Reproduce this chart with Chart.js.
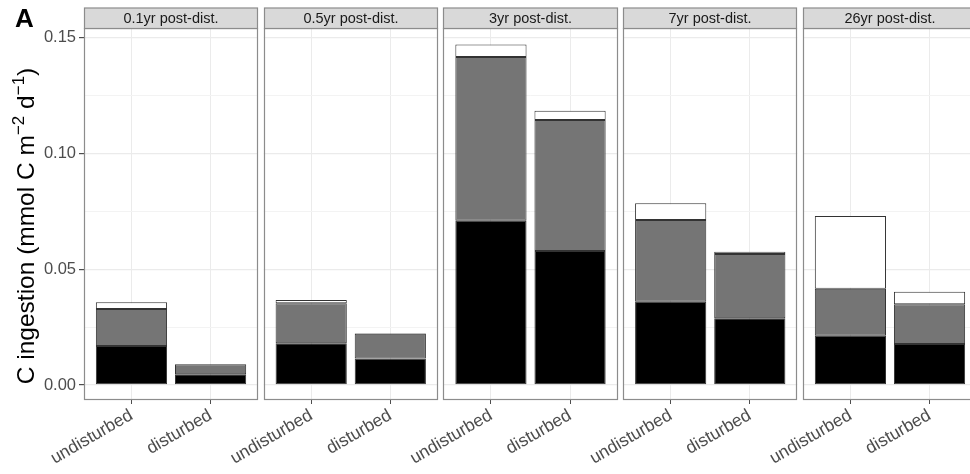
<!DOCTYPE html>
<html>
<head>
<meta charset="utf-8">
<script src="https://cdn.jsdelivr.net/npm/chart.js@4.4.1/dist/chart.umd.min.js"></script>
<style>
  html, body { margin: 0; padding: 0; background: #ffffff; }
  #wrap { position: relative; width: 970px; height: 474px; overflow: hidden; background: #ffffff; }
  #chart { display: block; }
</style>
</head>
<body>
<div id="wrap"><canvas id="chart" width="977" height="474"></canvas></div>
<script>
// Facets (time since disturbance) and the two site groups inside each facet
const panels = ['0.1yr post-dist.', '0.5yr post-dist.', '3yr post-dist.', '7yr post-dist.', '26yr post-dist.'];
const groups = ['undisturbed', 'disturbed'];
const yTicks = [0, 0.05, 0.10, 0.15];

// Stacked components per bar, ordered facet by facet: undisturbed, disturbed
const blackPart = [0.0168, 0.0046, 0.0180, 0.0114, 0.0710, 0.0579, 0.0360, 0.0288, 0.0213, 0.0177];
const greyPart  = [0.0160, 0.0043, 0.0173, 0.0107, 0.0708, 0.0566, 0.0353, 0.0278, 0.0203, 0.0172];
const whitePart = [0.0029, 0.0000, 0.0014, 0.0002, 0.0054, 0.0040, 0.0072, 0.0010, 0.0314, 0.0054];

const FONT = "'Liberation Sans', Arial, Helvetica, sans-serif";
const PITCH = 2.272;          // facet spacing on the shared x scale (2.2 units of panel + gap)
const PANEL_LO = 0.4, PANEL_HI = 2.6;

// x position of every bar: facet offset + group slot (1 or 2)
const xPos = [];
panels.forEach((_, p) => groups.forEach((_, g) => xPos.push(p * PITCH + g + 1)));

const toPoints = arr => arr.map((v, i) => ({ x: xPos[i], y: v }));

const isMajor = v => Math.abs(Math.round(v / 0.025) % 2) === 0;

// Facet frames, gaps and strip headers
const facetPlugin = {
  id: 'facets',
  beforeDatasetsDraw(chart) {
    const { ctx, chartArea: a, scales: { x } } = chart;
    ctx.save();
    // clear the gutter between facets
    ctx.fillStyle = '#ffffff';
    for (let p = 0; p < panels.length - 1; p++) {
      const l = x.getPixelForValue(p * PITCH + PANEL_HI);
      const r = x.getPixelForValue((p + 1) * PITCH + PANEL_LO);
      ctx.fillRect(l, a.top - 1, r - l, a.bottom - a.top + 2);
    }
    ctx.restore();
  },
  afterDatasetsDraw(chart) {
    const { ctx, chartArea: a, scales: { x } } = chart;
    ctx.save();
    panels.forEach((name, p) => {
      const l = Math.round(x.getPixelForValue(p * PITCH + PANEL_LO)) + 0.5;
      const r = Math.round(x.getPixelForValue(p * PITCH + PANEL_HI)) - 0.5;
      const top = Math.round(a.top) + 0.5;
      const bot = Math.round(a.bottom) - 0.5;
      // panel border
      ctx.strokeStyle = '#8c8c8c';
      ctx.lineWidth = 1.2;
      ctx.strokeRect(l, top, r - l, bot - top);
      // strip
      const sTop = top - 20.5;
      ctx.fillStyle = '#d9d9d9';
      ctx.fillRect(l, sTop, r - l, top - sTop);
      ctx.strokeRect(l, sTop, r - l, top - sTop);
      ctx.fillStyle = '#1a1a1a';
      ctx.font = `14.5px ${FONT}`;
      ctx.textAlign = 'center';
      ctx.textBaseline = 'middle';
      ctx.fillText(name, (l + r) / 2, (sTop + top) / 2 + 0.5);
    });
    ctx.restore();
  }
};

// Y-axis title with superscripted exponents, plus the panel tag
const titlePlugin = {
  id: 'yTitle',
  afterDraw(chart) {
    const { ctx } = chart;
    const size = 24.5, supSize = 17;
    const parts = [
      { t: 'C ingestion (mmol C m', sup: false },
      { t: '\u22122', sup: true },
      { t: ' d', sup: false },
      { t: '\u22121', sup: true },
      { t: ')', sup: false }
    ];
    ctx.save();
    let total = 0;
    parts.forEach(s => {
      ctx.font = `${s.sup ? supSize : size}px ${FONT}`;
      s.w = ctx.measureText(s.t).width;
      total += s.w;
    });
    ctx.translate(34, 226);
    ctx.rotate(-Math.PI / 2);
    ctx.fillStyle = '#000000';
    ctx.textAlign = 'left';
    ctx.textBaseline = 'alphabetic';
    let cx = -total / 2;
    parts.forEach(s => {
      ctx.font = `${s.sup ? supSize : size}px ${FONT}`;
      ctx.fillText(s.t, cx, s.sup ? -size * 0.42 : 0);
      cx += s.w;
    });
    ctx.restore();

    ctx.save();
    ctx.font = `bold 26px ${FONT}`;
    ctx.fillStyle = '#000000';
    ctx.textAlign = 'left';
    ctx.textBaseline = 'alphabetic';
    ctx.fillText('A', 15, 27);
    ctx.restore();
  }
};

const barStyle = { borderColor: '#333333', borderWidth: 1, borderSkipped: false, stack: 's', categoryPercentage: 1, barPercentage: 0.9 };

new Chart(document.getElementById('chart'), {
  type: 'bar',
  data: {
    datasets: [
      Object.assign({ label: 'black', data: toPoints(blackPart), backgroundColor: '#000000' }, barStyle),
      Object.assign({ label: 'grey', data: toPoints(greyPart), backgroundColor: '#757575' }, barStyle),
      Object.assign({ label: 'white', data: toPoints(whitePart), backgroundColor: '#ffffff' }, barStyle)
    ]
  },
  options: {
    responsive: false,
    animation: false,
    devicePixelRatio: 1,
    layout: { padding: { top: 28, left: 0, right: 0, bottom: 0 } },
    plugins: { legend: { display: false }, tooltip: { enabled: false } },
    scales: {
      x: {
        type: 'linear',
        stacked: true,
        offset: false,
        min: PANEL_LO,
        max: (panels.length - 1) * PITCH + PANEL_HI,
        border: { display: false },
        grid: { offset: false, color: '#ebebeb', lineWidth: 1, tickColor: '#4d4d4d', tickLength: 4, drawTicks: true },
        afterBuildTicks: s => { s.ticks = xPos.map(v => ({ value: v })); },
        afterFit: s => { s.height = 74; s.paddingLeft = 0; s.paddingRight = 0; },
        ticks: {
          autoSkip: false,
          minRotation: 30,
          maxRotation: 30,
          padding: 1,
          color: '#4d4d4d',
          font: { family: FONT, size: 17.5 },
          callback: (v, i) => groups[i % groups.length]
        }
      },
      y: {
        type: 'linear',
        stacked: true,
        min: -0.0065,
        max: 0.1543,
        border: { display: false },
        grid: {
          color: c => isMajor(c.tick.value) ? '#ebebeb' : '#f3f3f3',
          lineWidth: c => isMajor(c.tick.value) ? 1.2 : 1,
          tickColor: c => isMajor(c.tick.value) ? '#4d4d4d' : 'rgba(0,0,0,0)',
          tickLength: 5
        },
        afterBuildTicks: s => {
          const t = [];
          for (let i = 0; i <= 6; i++) t.push({ value: i * 0.025 });
          s.ticks = t;
        },
        afterFit: s => { s.width = 84; },
        ticks: {
          padding: 3,
          color: '#4d4d4d',
          font: { family: FONT, size: 16.5 },
          callback: v => (yTicks.some(t => Math.abs(t - v) < 1e-9) ? v.toFixed(2) : '')
        }
      }
    }
  },
  plugins: [facetPlugin, titlePlugin]
});
</script>
</body>
</html>
